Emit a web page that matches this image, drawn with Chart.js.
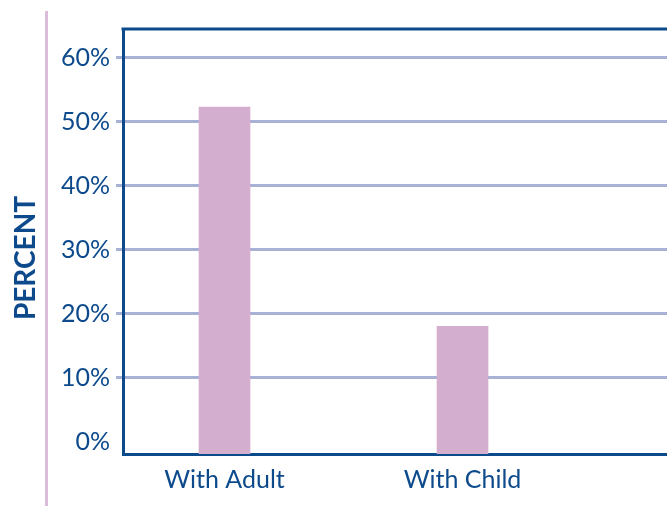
<!DOCTYPE html>
<html>
<head>
<meta charset="utf-8">
<script src="https://cdn.jsdelivr.net/npm/chart.js@4"></script>
<style>
  body { margin: 0; background: #fff; }
  #wrap { width: 667px; height: 506px; position: relative; }
</style>
</head>
<body>
<div id="wrap"><canvas id="bars"></canvas></div>
<script>
// values
const categories = ['With Adult', 'With Child'];
const percentValues = [52.3, 18.0];
const yTickValues = [0, 10, 20, 30, 40, 50, 60];
const yMin = -1.95;
const yMax = 64.5;
const yTitle = 'PERCENT';

const navy = '#0d4a8c';
const gridBlue = '#a8b2d5';
const barPink = '#d3aecf';
const linePink = '#dbbcdb';

// pink rule, axis title and the top border of the plot box
const framePlugin = {
  id: 'frame',
  afterDraw(chart) {
    const ctx = chart.ctx;
    const area = chart.chartArea;
    ctx.save();
    ctx.strokeStyle = linePink;
    ctx.lineWidth = 3;
    ctx.beginPath();
    ctx.moveTo(46.5, 11);
    ctx.lineTo(46.5, chart.height);
    ctx.stroke();
    ctx.strokeStyle = navy;
    ctx.beginPath();
    ctx.moveTo(area.left - 1.5, area.top);
    ctx.lineTo(chart.width, area.top);
    ctx.stroke();

    ctx.translate(26, 258);
    ctx.rotate(-Math.PI / 2);
    ctx.fillStyle = navy;
    ctx.font = 'bold 28px Lato';
    ctx.textAlign = 'center';
    ctx.textBaseline = 'middle';
    ctx.fillText(yTitle, 0, 0);
    ctx.restore();
  }
};

var ctx = document.getElementById('bars').getContext('2d');
var myChart = new Chart(ctx, {
  type: 'bar',
  data: {
    datasets: [{
      data: categories.map(function(c, i) { return { x: i, y: percentValues[i] }; }),
      backgroundColor: barPink,
      borderWidth: 0,
      barThickness: 51,
      base: yMin
    }]
  },
  plugins: [framePlugin],
  options: {
    responsive: true,
    maintainAspectRatio: false,
    animation: false,
    layout: { padding: { top: 29, right: 0, left: 0, bottom: 0 } },
    plugins: {
      legend: { display: false },
      tooltip: { enabled: false }
    },
    scales: {
      x: {
        type: 'linear',
        offset: false,
        min: -0.4265,
        max: 1.859,
        afterBuildTicks: function(axis) {
          axis.ticks = categories.map(function(c, i) { return { value: i }; });
        },
        afterFit: function(axis) { axis.height = 52; },
        grid: { display: false },
        border: { display: true, color: navy, width: 3 },
        ticks: {
          padding: 3,
          color: navy,
          font: { family: 'Lato', size: 25 },
          callback: function(v) { return categories[v]; }
        }
      },
      y: {
        min: yMin,
        max: yMax,
        afterBuildTicks: function(axis) {
          axis.ticks = yTickValues.map(function(v) { return { value: v }; });
        },
        afterFit: function(axis) { axis.width = 123; },
        border: { display: true, color: navy, width: 3 },
        grid: {
          color: function(c) { return c.tick && c.tick.value === 0 ? 'rgba(0,0,0,0)' : gridBlue; },
          tickColor: function(c) { return c.tick && c.tick.value === 0 ? 'rgba(0,0,0,0)' : gridBlue; },
          lineWidth: 3,
          tickLength: 7
        },
        ticks: {
          padding: 6,
          color: navy,
          font: { family: 'Lato', size: 25 },
          callback: function(v) { return v + '%'; }
        }
      }
    }
  }
});
</script>
</body>
</html>
